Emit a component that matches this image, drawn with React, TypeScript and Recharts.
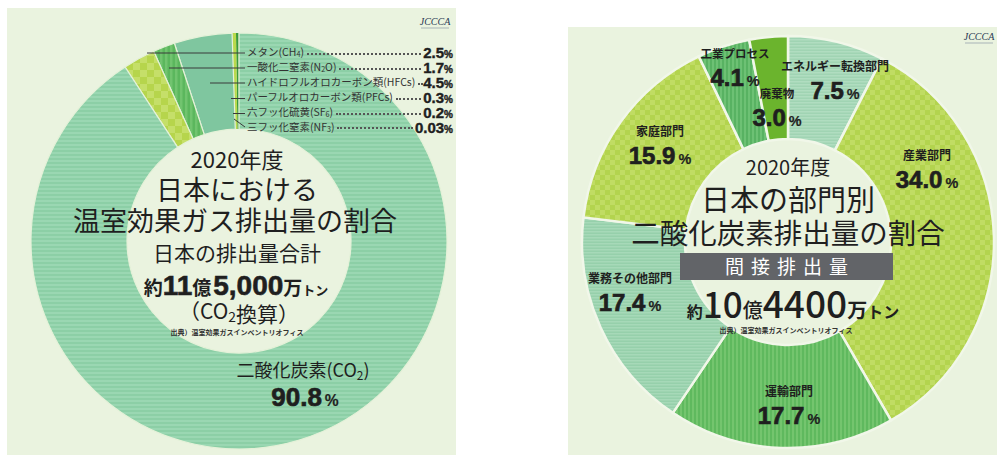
import { Cell, Pie, PieChart } from 'recharts'

// 温室効果ガス（左）: 上から反時計回り
const GAS_NAMES = [
  '三フッ化窒素(NF3)',
  '六フッ化硫黄(SF6)',
  'パーフルオロカーボン類(PFCs)',
  'ハイドロフルオロカーボン類(HFCs)',
  '一酸化二窒素(N2O)',
  'メタン(CH4)',
  '二酸化炭素(CO2)',
]
const GAS_SHARES = [0.03, 0.2, 0.3, 4.5, 1.7, 2.5, 90.8]

// 部門別CO2（右）: 上から時計回り
const SECTOR_NAMES = ['エネルギー転換部門', '産業部門', '運輸部門', '業務その他部門', '家庭部門', '工業プロセス', '廃棄物']
const SECTOR_SHARES = [7.5, 34.0, 17.7, 17.4, 15.9, 4.1, 3.0]

const gasData = GAS_NAMES.map((name, i) => ({ name, value: GAS_SHARES[i] }))
const sectorData = SECTOR_NAMES.map((name, i) => ({ name, value: SECTOR_SHARES[i] }))
// legend rows top→bottom: CH4 … NF3 (everything except CO2, reversed)
const legendOrder = GAS_NAMES.map((_, i) => i).slice(0, 6).reverse()

const GAS_FILLS = ['#2f8f34', '#3a9b3c', '#b9d94c', '#7fc69f', 'url(#vStripeGas)', 'url(#checkGas)', 'url(#hStripeGas)']
const SECTOR_FILLS = [
  'url(#hStripeEnergy)',
  'url(#checkSector)',
  'url(#vStripeTransport)',
  'url(#hStripeOffice)',
  'url(#checkSector)',
  'url(#vStripeIndustry)',
  '#6bb42d',
]

const jp = "'Noto Sans CJK JP', 'Noto Sans', sans-serif"
const num = "'Liberation Sans', Arial, sans-serif"
const ink = '#1f1f1f'

const fmt = (v: number) => (v < 0.1 ? v.toFixed(2) : v.toFixed(1))

// digits right after a capital letter become subscripts (CH4, N2O, CO2 …)
function chemSvg(text: string, size: number) {
  const parts = text.split(/(?<=[A-Z])(\d)/)
  const shift = size * 0.15
  return parts.map((p, i) =>
    i % 2 === 1 ? (
      <tspan key={i} fontSize={size * 0.66} dy={shift}>
        {p}
      </tspan>
    ) : (
      <tspan key={i} dy={i > 0 ? -shift : 0}>
        {p}
      </tspan>
    ),
  )
}

function chemHtml(text: string) {
  const parts = text.split(/(?<=[A-Z])(\d)/)
  return parts.map((p, i) =>
    i % 2 === 1 ? (
      <span key={i} style={{ fontSize: '0.68em', verticalAlign: '-0.15em' }}>
        {p}
      </span>
    ) : (
      <span key={i}>{p}</span>
    ),
  )
}

function Pct({ x, y, value, size = 24 }: { x: number; y: number; value: number; size?: number }) {
  return (
    <text x={x} y={y} textAnchor="middle" fontFamily={num} fontWeight={700} fill={ink} stroke={ink} strokeWidth={0.7}>
      <tspan fontSize={size}>{fmt(value)}</tspan>
      <tspan fontSize={size * 0.6} dx={3} strokeWidth={0.2}>
        %
      </tspan>
    </text>
  )
}

function SliceLabel({ x, y, idx, size = 12 }: { x: number; y: number; idx: number; size?: number }) {
  return (
    <g>
      <text x={x} y={y} textAnchor="middle" fontFamily={jp} fontWeight={700} fontSize={size} fill={ink}>
        {SECTOR_NAMES[idx]}
      </text>
      <Pct x={x} y={y + 28} value={SECTOR_SHARES[idx]} />
    </g>
  )
}

function Logo({ x, y }: { x: number; y: number }) {
  return (
    <g>
      <text x={x} y={y} textAnchor="middle" fontFamily="'Liberation Serif', serif" fontStyle="italic" fontSize={10} fill="#2a3a55">
        JCCCA
      </text>
      <line x1={x - 14} y1={y + 3} x2={x + 14} y2={y + 3} stroke="#7c8aa0" strokeWidth={0.6} />
    </g>
  )
}

function Overlay() {
  const leaders = [
    { y: 53, x1: 147 },
    { y: 68, x1: 169 },
    { y: 83, x1: 210 },
    { y: 98.5, x1: 231 },
    { y: 113.5, x1: 233 },
  ]
  return (
    <svg width={997} height={460} style={{ position: 'absolute', left: 0, top: 0, pointerEvents: 'none' }}>
      {/* left: leader lines */}
      {leaders.map((l) => (
        <line key={l.y} x1={l.x1} y1={l.y} x2={245} y2={l.y} stroke="#3a3a3a" strokeWidth={1} />
      ))}
      <line x1={234} y1={119} x2={245} y2={127} stroke="#3a3a3a" strokeWidth={1} />
      <Logo x={435} y={25} />

      {/* left: centre texts */}
      <g fontFamily={jp} fill={ink} textAnchor="middle">
        <text x={237} y={168} fontSize={22}>2020年度</text>
        <text x={237} y={200} fontSize={27}>日本における</text>
        <text x={235} y={231} fontSize={27}>温室効果ガス排出量の割合</text>
        <text x={237} y={261} fontSize={21}>日本の排出量合計</text>
        <text x={236} y={295} fontWeight={700}>
          <tspan fontSize={19}>約</tspan>
          <tspan fontSize={28} fontFamily={num} stroke={ink} strokeWidth={0.6}>11</tspan>
          <tspan fontSize={19}>億</tspan>
          <tspan fontSize={28} fontFamily={num} stroke={ink} strokeWidth={0.6} dx={2}>5,000</tspan>
          <tspan fontSize={19}>万</tspan>
          <tspan fontSize={13}>トン</tspan>
        </text>
        <text x={239} y={319} fontSize={21}>
          （{chemSvg('CO2', 21)}換算）
        </text>
        <text x={237} y={335} fontSize={7} fontWeight={700} fill="#333">
          出典）温室効果ガスインベントリオフィス
        </text>
        <text x={303} y={377} fontSize={18}>
          {chemSvg(GAS_NAMES[6], 18)}
        </text>
      </g>
      <Pct x={305} y={406} value={GAS_SHARES[6]} size={26} />

      {/* right: slice labels */}
      <Logo x={979} y={40} />
      <SliceLabel x={835} y={71} idx={0} />
      <SliceLabel x={927} y={160} idx={1} />
      <SliceLabel x={789} y={396} idx={2} />
      <SliceLabel x={630} y={283} idx={3} />
      <SliceLabel x={660} y={136} idx={4} />
      <SliceLabel x={735} y={58} idx={5} size={11.5} />
      <SliceLabel x={777} y={98} idx={6} size={11.5} />

      {/* right: centre texts */}
      <g fontFamily={jp} fill={ink} textAnchor="middle">
        <text x={788} y={175} fontSize={20}>2020年度</text>
        <text x={788} y={211} fontSize={29}>日本の部門別</text>
        <text x={788} y={244} fontSize={28.5}>二酸化炭素排出量の割合</text>
        <rect x={680} y={253} width={213} height={27} fill="#626468" />
        <text x={790} y={274} fontSize={19} fill="#ffffff" letterSpacing={7}>
          間接排出量
        </text>
        <text x={793} y={318}>
          <tspan fontSize={16} fontWeight={700}>約</tspan>
          <tspan fontSize={35} fontWeight={500}>10</tspan>
          <tspan fontSize={20} fontWeight={500}>億</tspan>
          <tspan fontSize={37} fontWeight={500}>4400</tspan>
          <tspan fontSize={20} fontWeight={700}>万</tspan>
          <tspan fontSize={16} fontWeight={700}>トン</tspan>
        </text>
        <text x={786} y={333} fontSize={7} fontWeight={700} fill="#333">
          出典）温室効果ガスインベントリオフィス
        </text>
      </g>
    </svg>
  )
}

function Patterns() {
  const hStripe = (id: string, a: string, b: string, p = 4) => (
    <pattern id={id} width={8} height={p} patternUnits="userSpaceOnUse">
      <rect width={8} height={p} fill={a} />
      <rect width={8} height={p / 2} fill={b} />
    </pattern>
  )
  const vStripe = (id: string, a: string, b: string, p = 5) => (
    <pattern id={id} width={p} height={8} patternUnits="userSpaceOnUse">
      <rect width={p} height={8} fill={a} />
      <rect width={p / 2} height={8} fill={b} />
    </pattern>
  )
  const check = (id: string, a: string, b: string, s: number) => (
    <pattern id={id} width={s * 2} height={s * 2} patternUnits="userSpaceOnUse">
      <rect width={s * 2} height={s * 2} fill={a} />
      <rect width={s} height={s} fill={b} />
      <rect x={s} y={s} width={s} height={s} fill={b} />
    </pattern>
  )
  return (
    <svg width={0} height={0} style={{ position: 'absolute' }}>
      <defs>
        {hStripe('hStripeGas', '#8ccfa6', '#9ad7b2')}
        {vStripe('vStripeGas', '#5bb75d', '#71c46f')}
        {check('checkGas', '#b6d54c', '#c5df69', 7)}
        {hStripe('hStripeEnergy', '#a0d4b3', '#b0ddc0', 3)}
        {hStripe('hStripeOffice', '#96d0ab', '#a6d9b8', 3)}
        {check('checkSector', '#b3d44e', '#c0dc63', 5)}
        {vStripe('vStripeTransport', '#5fb95e', '#74c56e', 4)}
        {vStripe('vStripeIndustry', '#58b262', '#6dc174', 4)}
      </defs>
    </svg>
  )
}

export default function App() {
  const panel = { position: 'absolute' as const, background: '#eaf3df' }
  return (
    <div style={{ position: 'absolute', left: 0, top: 0, width: 997, height: 460, background: '#ffffff', overflow: 'hidden' }}>
      <Patterns />
      <div style={{ ...panel, left: 7, top: 8, width: 449, height: 447 }} />
      <div style={{ ...panel, left: 568, top: 27, width: 429, height: 428 }} />
      <PieChart width={997} height={460} style={{ position: 'absolute', left: 0, top: 0 }}>
        <Pie
          data={gasData}
          dataKey="value"
          nameKey="name"
          cx={234}
          cy={236}
          innerRadius={112}
          outerRadius={208}
          startAngle={90}
          endAngle={450}
          isAnimationActive={false}
        >
          {gasData.map((d, i) => (
            <Cell key={d.name} fill={GAS_FILLS[i]} stroke={i < 3 ? 'none' : '#e4f1d8'} strokeWidth={1.2} />
          ))}
        </Pie>
        <Pie
          data={sectorData}
          dataKey="value"
          nameKey="name"
          cx={783}
          cy={237}
          innerRadius={103}
          outerRadius={206}
          startAngle={90}
          endAngle={-270}
          isAnimationActive={false}
        >
          {sectorData.map((d, i) => (
            <Cell key={d.name} fill={SECTOR_FILLS[i]} stroke="#f1f7e9" strokeWidth={2.5} />
          ))}
        </Pie>
      </PieChart>
      <Overlay />
      <div style={{ position: 'absolute', left: 247, top: 45.5, width: 206 }}>
        {legendOrder.map((i) => (
          <div key={i} style={{ display: 'flex', alignItems: 'center', height: 14.9 }}>
            <span style={{ fontFamily: jp, fontSize: 10.5, color: '#333', whiteSpace: 'nowrap', lineHeight: 1 }}>
              {chemHtml(GAS_NAMES[i])}
            </span>
            <span style={{ flex: 1, borderBottom: '2px dotted #555', margin: '2px 2px 0 3px' }} />
            <span
              style={{
                fontFamily: num,
                fontWeight: 700,
                fontSize: 15,
                color: ink,
                lineHeight: 1,
                WebkitTextStroke: '0.4px #1f1f1f',
              }}
            >
              {fmt(GAS_SHARES[i])}
              <span style={{ fontSize: 10 }}>%</span>
            </span>
          </div>
        ))}
      </div>
    </div>
  )
}
